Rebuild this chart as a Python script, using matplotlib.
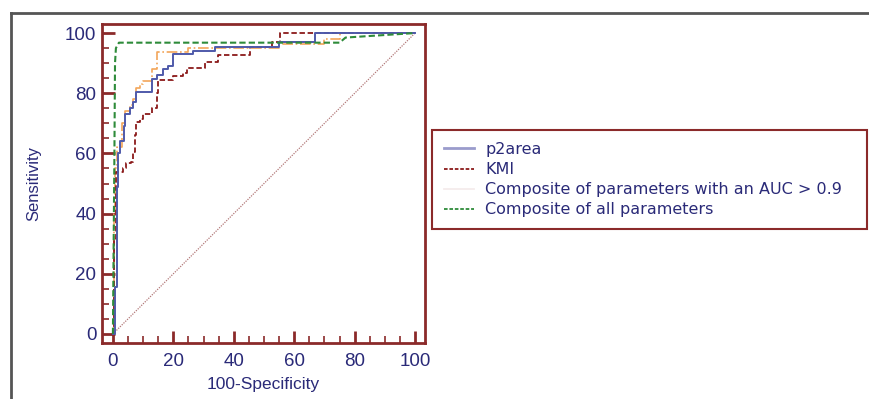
import matplotlib

matplotlib.use("Agg")
import matplotlib.pyplot as plt  # noqa: E402
from matplotlib.lines import Line2D  # noqa: E402
from matplotlib.ticker import MultipleLocator  # noqa: E402

# ROC curves: (100-specificity, sensitivity) corners,
# drawn as post-steps (rise happens at the listed x).
P2AREA_X = [0, 0.7, 1.2, 1.7, 2.5, 3.6, 4.0, 5.5, 6.6, 7.8, 12.8, 14.5, 16.7,
            18.3, 20.0, 26.6, 33.8, 55.0, 67.0, 100]
P2AREA_Y = [0, 15.6, 49.0, 60.0, 64.0, 69.0, 73.0, 75.0, 77.0, 80.5, 84.6,
            86.0, 88.0, 89.0, 93.0, 94.0, 95.5, 97.0, 100, 100]

KMI_X = [0, 0.5, 1.1, 3.3, 4.4, 6.0, 6.6, 7.2, 7.8, 8.9, 10.0, 12.8, 14.5,
         15.0, 20.0, 23.3, 24.4, 30.5, 34.9, 45.4, 52.5, 55.3, 100]
KMI_Y = [0, 31.6, 53.7, 55.0, 56.8, 57.0, 60.5, 66.0, 70.5, 71.5, 73.0, 75.0,
         80.0, 84.5, 85.6, 86.8, 88.3, 90.5, 92.7, 95.4, 97.1, 100, 100]

AUC09_X = [0, 0.5, 0.8, 1.5, 3.0, 4.0, 5.5, 6.5, 7.8, 9.0, 10.0, 13.0, 14.5,
           25.0, 55.0, 70.0, 75.0, 100]
AUC09_Y = [0, 40.0, 55.0, 62.0, 70.0, 74.0, 76.0, 78.0, 81.6, 83.0, 84.0,
           88.0, 93.8, 95.0, 96.5, 98.0, 100, 100]

ALL_X = [0, 0.5, 0.7, 1.0, 2.0, 75.0, 77.0, 100]
ALL_Y = [0, 60.0, 90.0, 95.0, 96.8, 96.8, 98.5, 100]

LABELS = ["p2area", "KMI", "Composite of parameters with an AUC > 0.9",
          "Composite of all parameters"]
TICKS = [0, 20, 40, 60, 80, 100]

SPINE = "#8b2a2a"
TEXT = "#2a2a78"
plt.rcParams["font.family"] = ["Liberation Sans", "DejaVu Sans"]

fig = plt.figure(figsize=(8.69, 3.99), dpi=100)
ax = fig.add_axes([0.1174, 0.1404, 0.3717, 0.7994])

ax.plot([0, 100], [0, 100], color="#b27878", lw=0.9, ls=(0, (1, 1)))
ax.plot(AUC09_X, AUC09_Y, color="#f2a65a", lw=1.2, ls="-.",
        drawstyle="steps-post")
ax.plot(KMI_X, KMI_Y, color="#8b1a1a", lw=1.3, ls=(0, (3, 1.5)),
        drawstyle="steps-post")
ax.plot(P2AREA_X, P2AREA_Y, color="#4f5aaa", lw=1.4, drawstyle="steps-post")
ax.plot(ALL_X, ALL_Y, color="#2e8b3a", lw=1.5, ls=(0, (3, 1.5)))

ax.set_xlim(-3.6, 103.3)
ax.set_ylim(-3.0, 103.0)
ax.set_xticks(TICKS)
ax.set_yticks(TICKS)
ax.xaxis.set_minor_locator(MultipleLocator(5))
ax.yaxis.set_minor_locator(MultipleLocator(5))
ax.tick_params(which="major", direction="in", length=9, width=2, color=SPINE,
               labelcolor=TEXT, labelsize=13.5)
ax.tick_params(axis="y", which="major", pad=4)
ax.tick_params(axis="x", which="major", pad=7)
ax.tick_params(which="minor", direction="in", length=5, width=1.2,
               color=SPINE)
for spine in ax.spines.values():
    spine.set_color(SPINE)
    spine.set_linewidth(2)
ax.set_xlabel("100-Specificity", color=TEXT, fontsize=12.5, labelpad=5)
ax.set_ylabel("Sensitivity", color=TEXT, fontsize=12, labelpad=17)

handles = [
    Line2D([], [], color="#9a9ccc", lw=2),
    Line2D([], [], color="#8b1a1a", lw=1.3, ls=(0, (2, 1))),
    Line2D([], [], color="#f4ecec", lw=1.3),
    Line2D([], [], color="#2e8b3a", lw=1.3, ls=(0, (2, 1))),
]
leg = fig.legend(handles, LABELS, loc="upper left",
                 bbox_to_anchor=(0.497, 0.421, 0.501, 0.253), mode="expand",
                 fancybox=False, framealpha=1,
                 prop={"family": "DejaVu Sans", "size": 11.5},
                 handlelength=1.9, handletextpad=0.7, labelspacing=0.32,
                 borderpad=0.75, labelcolor=TEXT, borderaxespad=0)
leg.get_frame().set_edgecolor(SPINE)
leg.get_frame().set_linewidth(1.5)

# outer figure frame (left and top edges visible in the crop)
fig.add_artist(Line2D([11 / 869, 11 / 869], [0, 1 - 13 / 399],
                      transform=fig.transFigure, color="#555555", lw=2))
fig.add_artist(Line2D([11 / 869, 1], [1 - 13 / 399, 1 - 13 / 399],
                      transform=fig.transFigure, color="#555555", lw=2))

fig.savefig("out.png", dpi=100)
